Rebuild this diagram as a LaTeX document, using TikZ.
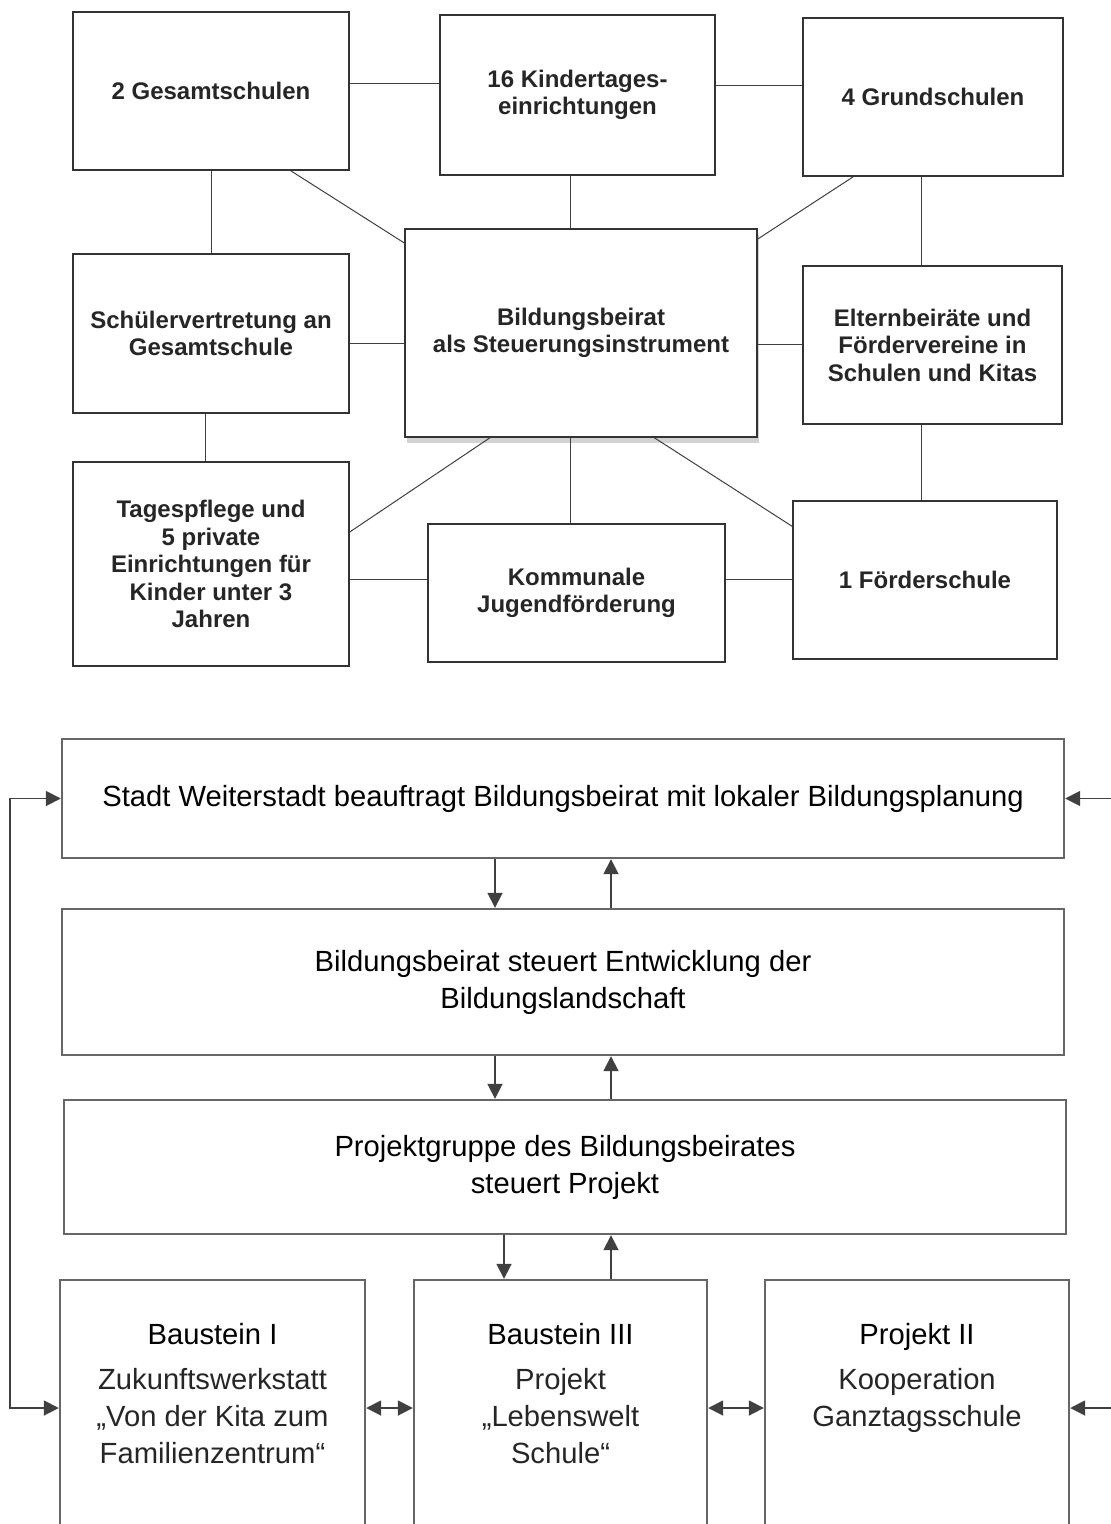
\documentclass[tikz,border=0pt]{standalone}
\usepackage{fontspec}
\setmainfont{Liberation Sans}
\usepackage{tikz}
\usetikzlibrary{positioning,arrows.meta,shadows}

\begin{document}
\begin{tikzpicture}[
	x=0.5pt, y=-0.5pt,
	partner/.style = {rectangle, draw=black!80, line width=0.8pt, fill=white, align=center, text=black!85, font=\bfseries\fontsize{12}{13.75}\selectfont},
	hub/.style = {partner, drop shadow={shadow xshift=1pt, shadow yshift=-3pt, fill=black!35}},
	link/.style = {draw=black!75, line width=0.5pt},
	level/.style = {rectangle, draw=black!60, line width=1.2pt, minimum width=501pt, align=center, font=\fontsize{14.6}{18.5}\selectfont},
	module/.style = {rectangle, draw=black!60, line width=1.2pt, minimum height=128pt},
	moduletext/.style = {align=center, inner sep=0pt, text=black!85, font=\fontsize{14.6}{18.5}\selectfont},
	flow/.style = {-{Triangle[length=7.5pt,width=7.5pt]}, draw=black!75, line width=0.9pt},
	twoway/.style = {{Triangle[length=7.5pt,width=7.5pt]}-{Triangle[length=7.5pt,width=7.5pt]}, draw=black!75, line width=0.9pt},
]
\useasboundingbox (0,0) rectangle (1111,1524);

\node[partner, minimum width=138pt, minimum height=79pt] (gesamt) at (211,91) {2 Gesamtschulen};
\node[partner, minimum width=137.5pt, minimum height=80pt] (kita) at (577.5,95) {16 Kindertages-\\einrichtungen};
\node[partner, minimum width=130pt, minimum height=79pt] (grund) at (933,97) {4 Grundschulen};
\node[partner, minimum width=138pt, minimum height=79.5pt] (sv) at (211,333.5) {Schülervertretung an\\Gesamtschule};
\node[hub, minimum width=176pt, minimum height=104pt] (beirat) at (581,333) {Bildungsbeirat\\als Steuerungsinstrument};
\node[partner, minimum width=129.5pt, minimum height=79pt] (eltern) at (932.5,345) {Elternbeiräte und\\Fördervereine in\\Schulen und Kitas};
\node[partner, minimum width=138pt, minimum height=102pt] (tagespflege) at (211,564) {Tagespflege und\\5 private\\Einrichtungen für\\Kinder unter 3\\Jahren};
\node[partner, minimum width=148.5pt, minimum height=69pt] (jugend) at (576.5,593) {Kommunale\\Jugendförderung};
\node[partner, minimum width=132pt, minimum height=79pt] (foerder) at (925,580) {1 Förderschule};

\draw[link] (gesamt.3) -- (gesamt.3 -| kita.west);
\draw[link] (kita.4) -- (kita.4 -| grund.west);
\draw[link] (gesamt.south) -- (gesamt.south |- sv.north);
\draw[link] (gesamt.-45) -- (beirat.153);
\draw[link] (kita.-95) -- (kita.-95 |- beirat.north);
\draw[link] (grund.-135) -- (beirat.28);
\draw[link] (grund.-98) -- (grund.-98 |- eltern.north);
\draw[link] (sv.-4) -- (sv.-4 -| beirat.west);
\draw[link] (beirat.east |- eltern.west) -- (eltern.west);
\draw[link] (sv.-94) -- (sv.-94 |- tagespflege.north);
\draw[link] (eltern.-98) -- (eltern.-98 |- foerder.north);
\draw[link] (beirat.-131) -- (tagespflege.13);
\draw[link] (jugend.95 |- beirat.south) -- (jugend.95);
\draw[link] (beirat.-55) -- (foerder.158);
\draw[link] (tagespflege.east |- jugend.175) -- (jugend.175);
\draw[link] (jugend.5) -- (jugend.5 -| foerder.west);

\node[level, minimum height=59.5pt] (stadt) at (563,798.5) {Stadt Weiterstadt beauftragt Bildungsbeirat mit lokaler Bildungsplanung};
\node[level, minimum height=73pt] (steuert) at (563,982) {Bildungsbeirat steuert Entwicklung der\\Bildungslandschaft};
\node[level, minimum height=67pt] (projektgruppe) at (565,1167) {Projektgruppe des Bildungsbeirates\\steuert Projekt};
\node[module, minimum width=152.5pt] (baustein1) at (212.5,1408) {};
\node[module, minimum width=146.5pt] (baustein3) at (560.5,1408) {};
\node[module, minimum width=152pt] (projekt2) at (917,1408) {};
\node[moduletext] (baustein1-text) [below=22pt of baustein1.north] {\textcolor{black}{Baustein I}\\[4pt]Zukunftswerkstatt\\„Von der Kita zum\\Familienzentrum“};
\node[moduletext] (baustein3-text) [below=22pt of baustein3.north] {\textcolor{black}{Baustein III}\\[4pt]Projekt\\„Lebenswelt\\Schule“};
\node[moduletext] (projekt2-text) [below=22pt of projekt2.north] {\textcolor{black}{Projekt II}\\[4pt]Kooperation\\Ganztagsschule};

\draw[flow] ([xshift=-34pt]stadt.south) -- ([xshift=-34pt]stadt.south |- steuert.north);
\draw[flow] ([xshift=24pt]stadt.south |- steuert.north) -- ([xshift=24pt]stadt.south);
\draw[flow] ([xshift=-34pt]steuert.south) -- ([xshift=-34pt]steuert.south |- projektgruppe.north);
\draw[flow] ([xshift=24pt]steuert.south |- projektgruppe.north) -- ([xshift=24pt]steuert.south);
\draw[flow] ([xshift=-30.5pt]projektgruppe.south) -- ([xshift=-30.5pt]projektgruppe.south |- baustein3.north);
\draw[flow] ([xshift=23pt]projektgruppe.south |- baustein3.north) -- ([xshift=23pt]projektgruppe.south);
\draw[twoway] (baustein1.east) -- (baustein3.west);
\draw[twoway] (baustein3.east) -- (projekt2.west);
\draw[twoway] (baustein1.west) -- ++(-49,0) |- (stadt.west);
\draw[twoway] (projekt2.east) -- ++(60,0) |- (stadt.east);
\end{tikzpicture}
\end{document}
